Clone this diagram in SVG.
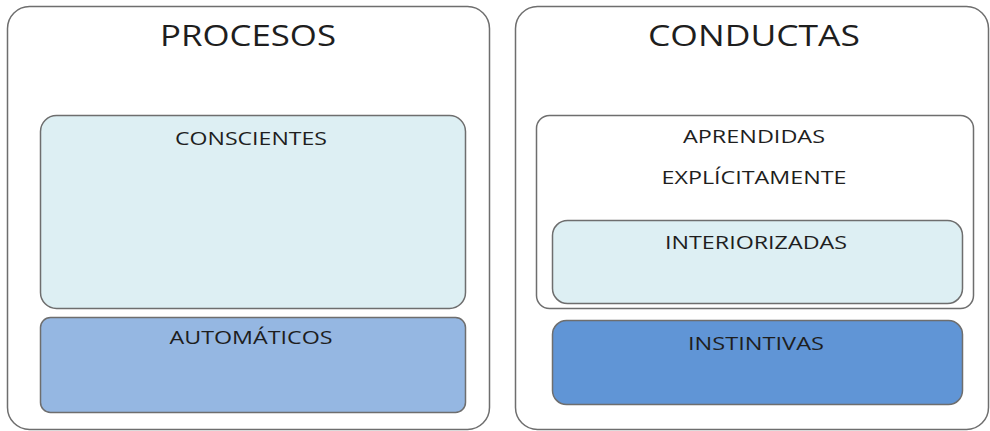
<svg xmlns="http://www.w3.org/2000/svg" width="990" height="431" viewBox="0 0 990 431">
<style>
.box{stroke:#6e6e6e;stroke-width:1.5}
.t{font-family:"Open Sans","Liberation Sans",sans-serif;fill:#1e1e1e;text-anchor:middle}
.h{font-size:29px}
.s{font-size:19px}
</style>
<rect width="990" height="431" fill="#ffffff"/>
<g id="procesos">
<rect class="box" x="7.5" y="6.5" width="482" height="423" rx="22" fill="#ffffff"/>
<text class="t h" x="248" y="46" textLength="176" lengthAdjust="spacingAndGlyphs">PROCESOS</text>
</g>
<g id="conscientes">
<rect class="box" x="40.5" y="115.5" width="425" height="193" rx="16" fill="#ddeff3"/>
<text class="t s" x="251" y="145" textLength="152" lengthAdjust="spacingAndGlyphs">CONSCIENTES</text>
</g>
<g id="automaticos">
<rect class="box" x="40.5" y="317.5" width="425" height="95" rx="10" fill="#95b7e2"/>
<text class="t s" x="251" y="344" textLength="163" lengthAdjust="spacingAndGlyphs">AUTOMÁTICOS</text>
</g>
<g id="conductas">
<rect class="box" x="515.5" y="6.5" width="473" height="423" rx="22" fill="#ffffff"/>
<text class="t h" x="754" y="46" textLength="212" lengthAdjust="spacingAndGlyphs">CONDUCTAS</text>
</g>
<g id="aprendidas">
<rect class="box" x="536.5" y="115.5" width="437" height="193" rx="13" fill="#ffffff"/>
<text class="t s" x="754" y="143" textLength="142" lengthAdjust="spacingAndGlyphs">APRENDIDAS</text>
<text class="t s" x="754" y="184" textLength="185" lengthAdjust="spacingAndGlyphs">EXPLÍCITAMENTE</text>
</g>
<g id="interiorizadas">
<rect class="box" x="552.5" y="220.5" width="410" height="83" rx="15" fill="#ddeff3"/>
<text class="t s" x="756" y="249" textLength="182" lengthAdjust="spacingAndGlyphs">INTERIORIZADAS</text>
</g>
<g id="instintivas">
<rect class="box" x="552.5" y="320.5" width="410" height="84" rx="14" fill="#6095d6"/>
<text class="t s" x="756" y="350" textLength="136" lengthAdjust="spacingAndGlyphs">INSTINTIVAS</text>
</g>
<g id="connectors"></g>
</svg>
